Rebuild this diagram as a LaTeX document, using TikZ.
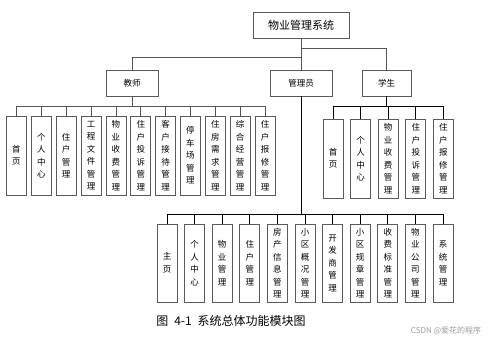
\documentclass[tikz,border=0pt]{standalone}
\usepackage{fontspec}
\setmainfont{Noto Sans CJK SC}
\usepackage{xcolor}
\usepackage{tikz}
\usetikzlibrary{positioning,calc}
\definecolor{boxline}{HTML}{5A5A5A}
\definecolor{wirethin}{HTML}{555555}
\definecolor{markgray}{HTML}{9A9A9A}
\tikzset{
  % --- upper level boxes ---
  topbox/.style={draw=boxline, thick, fill=white, align=center,
                 inner sep=0pt, minimum height=26pt,
                 font=\fontsize{11pt}{13pt}\selectfont},
  rolebox/.style={topbox, font=\fontsize{8.5pt}{10pt}\selectfont},
  % --- function leaves, text set top to bottom ---
  leafbox/.style={draw=boxline, thick, fill=white, align=center,
                  inner sep=0pt, minimum width=20pt, minimum height=79pt,
                  font=\fontsize{8.5pt}{12.5pt}\selectfont},
  % --- connectors ---
  wire/.style={draw=wirethin, semithick},
  wirebold/.style={draw=black, thick},
}

\begin{document}
\begin{tikzpicture}[x=1pt,y=-1pt]
  \useasboundingbox (0,0) rectangle (500,340);
  % root and roles
  \node[topbox,minimum width=96pt] (root) at (301,25) {物业管理系统};
  \node[rolebox,minimum width=52pt] (teacher) at (132,83) {教师};
  \node[rolebox,minimum width=62pt] (admin) at (301,83) {管理员};
  \node[rolebox,minimum width=49pt] (student) at (386.5,83) {学生};
  \draw[wire] (root.south) -- ++(0,10) -| (student.north);
  \draw[wire] (root.south) -- ++(0,19) -| (teacher.north);
  \draw[wire] (root.south) -- (admin.north);
  % teacher functions
  \foreach \i/\t in {1/首\\页, 2/个\\人\\中\\心, 3/住\\户\\管\\理,
                     4/工\\程\\文\\件\\管\\理, 5/物\\业\\收\\费\\管\\理,
                     6/住\\户\\投\\诉\\管\\理, 7/客\\户\\接\\待\\管\\理,
                     8/停\\车\\场\\管\\理, 9/住\\房\\需\\求\\管\\理,
                     10/综\\合\\经\\营\\管\\理, 11/住\\户\\报\\修\\管\\理} {
    \node[leafbox] (t\i) at ({16.5+24.85*(\i-1)},155.5) {\t};
    \draw[wire] (teacher.south) -- ++(0,10) -| (t\i.north);
  }
  % student functions
  \foreach \i/\t in {1/首\\页, 2/个\\人\\中\\心, 3/物\\业\\收\\费\\管\\理,
                     4/住\\户\\投\\诉\\管\\理, 5/住\\户\\报\\修\\管\\理} {
    \node[leafbox] (s\i) at ({333+27.6*(\i-1)},158.5) {\t};
    \draw[wirebold] (student.south) -- ++(0,10) -| (s\i.north);
  }
  % admin functions
  \foreach \i/\t in {1/主\\页, 2/个\\人\\中\\心, 3/物\\业\\管\\理,
                     4/住\\户\\管\\理, 5/房\\产\\信\\息\\管\\理,
                     6/小\\区\\概\\况\\管\\理, 7/开\\发\\商\\管\\理,
                     8/小\\区\\规\\章\\管\\理, 9/收\\费\\标\\准\\管\\理,
                     10/物\\业\\公\\司\\管\\理, 11/系\\统\\管\\理} {
    \node[leafbox,minimum height=78pt] (a\i) at ({167+27.6*(\i-1)},263) {\t};
    \draw[wirebold] (admin.south) -- ++(0,118) -| (a\i.north);
  }
  % caption and mark
  \node[font=\fontsize{12pt}{14pt}\selectfont] (caption) at (231,321) {图\enspace 4-1\enspace 系统总体功能模块图};
  \node[font=\fontsize{8pt}{10pt}\selectfont,text=markgray] (mark) at (446,331) {CSDN @爱花的程序};
\end{tikzpicture}
\end{document}
